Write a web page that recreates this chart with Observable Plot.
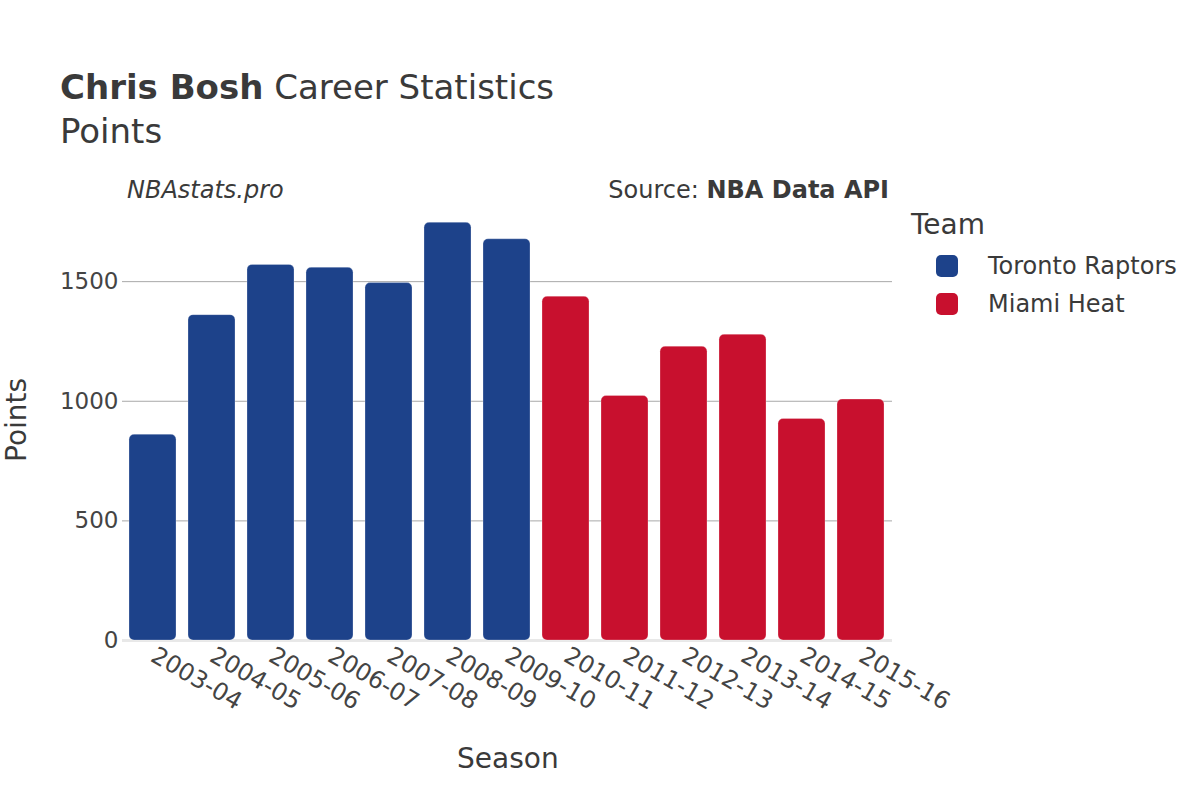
<!DOCTYPE html>
<html>
<head>
<meta charset="utf-8">
<script src="https://cdn.jsdelivr.net/npm/d3@7"></script>
<script src="https://cdn.jsdelivr.net/npm/@observablehq/plot@0.6"></script>
<style>
  html, body { margin: 0; padding: 0; background: #fff; }
  body { font-family: "DejaVu Sans", sans-serif; color: #3a3a3a; }
  #wrap { position: relative; width: 1200px; height: 800px; }
  #chart { position: absolute; left: 0; top: 0; }
  .t { position: absolute; white-space: nowrap; line-height: 1; }
  .sw { position: absolute; width: 22px; height: 22px; border-radius: 5px; }
</style>
</head>
<body>
<div id="wrap">
  <div id="chart"></div>
  <div class="t" style="left:60px; top:70px; font-size:34px;"><b>Chris Bosh</b> Career Statistics</div>
  <div class="t" style="left:60px; top:114px; font-size:34px;">Points</div>
  <div class="t" style="left:127px; top:178px; font-size:24px; font-style:italic;">NBAstats.pro</div>
  <div class="t" style="right:311px; top:178px; font-size:24px;">Source: <b>NBA Data API</b></div>
  <div class="t" style="left:911px; top:211px; font-size:28px;">Team</div>
  <div id="legend"></div>
  <div class="t" style="left:457px; top:745px; font-size:28px;">Season</div>
  <div class="t" style="font-size:28px; transform: rotate(-90deg); transform-origin: 0 0; left:3px; top:462px;">Points</div>
</div>
<script>
const seasons = ["2003-04","2004-05","2005-06","2006-07","2007-08","2008-09","2009-10","2010-11","2011-12","2012-13","2013-14","2014-15","2015-16"];
const teams = ["Toronto Raptors","Toronto Raptors","Toronto Raptors","Toronto Raptors","Toronto Raptors","Toronto Raptors","Toronto Raptors","Miami Heat","Miami Heat","Miami Heat","Miami Heat","Miami Heat","Miami Heat"];
const points = [860, 1360, 1570, 1558, 1494, 1746, 1677, 1437, 1022, 1228, 1278, 926, 1007];
const teamNames = ["Toronto Raptors", "Miami Heat"];
const teamColors = ["#1d428a", "#c8102e"];
const yTicks = [0, 500, 1000, 1500];

const data = seasons.map((s, i) => ({season: s, team: teams[i], points: points[i]}));

const chart = Plot.plot({
  width: 1200,
  height: 800,
  marginLeft: 122,
  marginRight: 308,
  marginTop: 201,
  marginBottom: 160,
  style: {fontFamily: "DejaVu Sans, sans-serif", fontSize: "23px", color: "#444", background: "transparent"},
  x: {domain: seasons, paddingInner: 0.2, paddingOuter: 0.1, label: null},
  y: {domain: [0, 1835], label: null},
  color: {domain: teamNames, range: teamColors},
  marks: [
    Plot.gridY(yTicks.filter(d => d > 0), {stroke: "#a8a8a8", strokeOpacity: 1, strokeWidth: 1}),
    Plot.ruleY([0], {stroke: "#e8e8e8", strokeWidth: 3}),
    Plot.barY(data, {x: "season", y: "points", fill: "team", rx: 5, stroke: "#ffffff", strokeOpacity: 0.25, strokeWidth: 1}),
    Plot.axisY({ticks: yTicks, tickFormat: d3.format("d"), tickSize: 0, tickPadding: 4, label: null, fontSize: 23}),
    Plot.axisX({tickSize: 0, tickPadding: 13, tickRotate: 30, label: null, fontSize: 24})
  ]
});
document.getElementById("chart").appendChild(chart);

const legend = document.getElementById("legend");
teamNames.forEach((name, i) => {
  const sw = document.createElement("div");
  sw.className = "sw";
  sw.style.left = "936px";
  sw.style.top = (255 + i * 38) + "px";
  sw.style.background = teamColors[i];
  legend.appendChild(sw);
  const t = document.createElement("div");
  t.className = "t";
  t.style.left = "988px";
  t.style.top = (254 + i * 38) + "px";
  t.style.fontSize = "24px";
  t.textContent = name;
  legend.appendChild(t);
});
</script>
</body>
</html>
